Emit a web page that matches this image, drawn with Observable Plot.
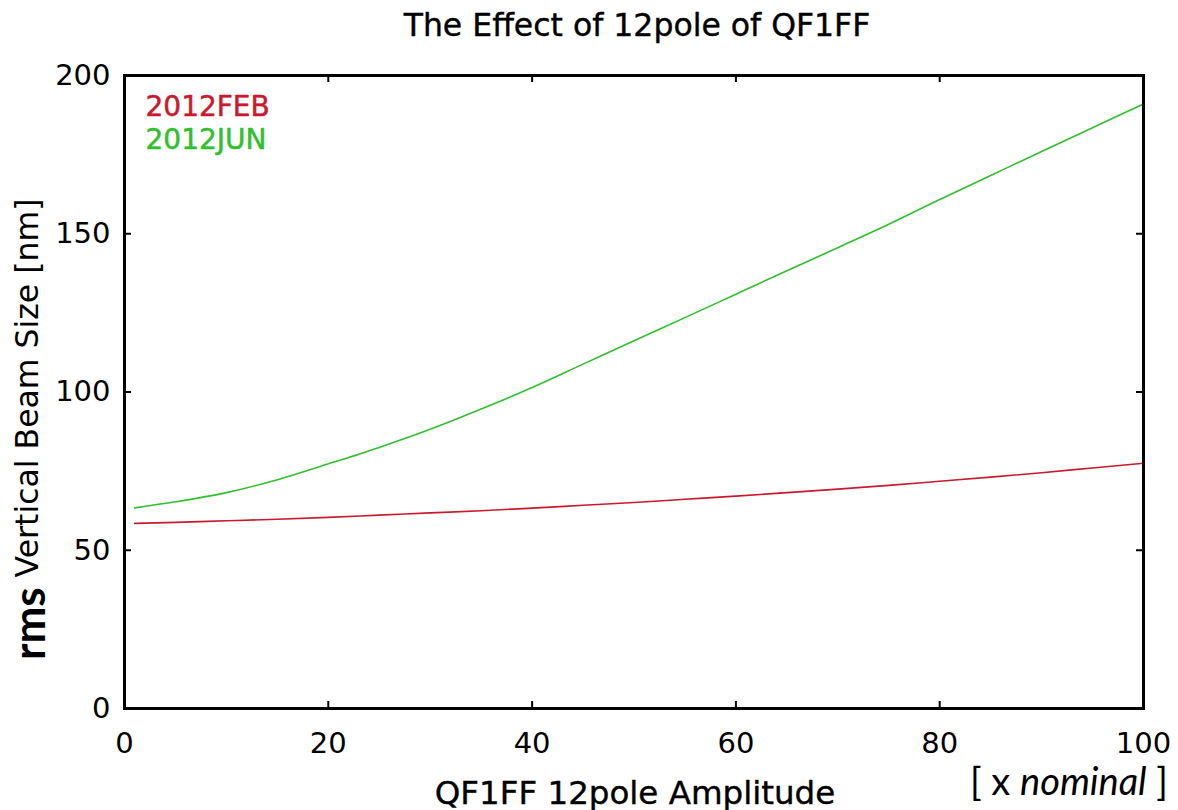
<!DOCTYPE html>
<html><head><meta charset="utf-8">
<script src="https://cdn.jsdelivr.net/npm/d3@7"></script>
<script src="https://cdn.jsdelivr.net/npm/@observablehq/plot@0.6"></script>
<style>body{margin:0;background:#fff;} svg{display:block}</style>
</head><body><div id="chart"></div>
<script>
// ---- data ----
const amplitude = [1, 5, 10, 15, 20, 25, 30, 35, 40, 45, 50, 55, 60, 65, 70, 75, 80, 85, 90, 95, 100];
const feb2012 = [58.5, 58.8, 59.3, 59.8, 60.4, 61.1, 61.8, 62.5, 63.3, 64.2, 65.1, 66.1, 67.1, 68.2, 69.3, 70.5, 71.8, 73.1, 74.5, 76.0, 77.5];
const jun2012 = [63.4, 65.3, 68.2, 72.3, 77.3, 82.5, 88.2, 94.6, 101.4, 108.8, 116.2, 123.5, 130.9, 138.3, 145.6, 153.0, 160.8, 168.4, 176.0, 183.5, 191.0];
const seriesNames = ["2012FEB", "2012JUN"];
const seriesColors = ["#c81a2c", "#2fbf2f"];
const xTicks = [0, 20, 40, 60, 80, 100];
const yTicks = [0, 50, 100, 150, 200];
const titleText = "The Effect of 12pole of QF1FF";
const xLabelText = "QF1FF 12pole Amplitude";
const yLabelBold = "rms";
const yLabelText = "Vertical Beam Size [nm]";
const xUnitParts = ["[ x ", "nominal", " ]"];

const rows = [];
seriesNames.forEach((s, k) => {
  const vals = k === 0 ? feb2012 : jun2012;
  amplitude.forEach((a, i) => rows.push({series: s, amplitude: a, size: vals[i]}));
});

const W = 1178, H = 810, mL = 124, mR = 35, mT = 75, mB = 102;
const iw = W - mL - mR, ih = H - mT - mB, tickLen = 7;

const chart = Plot.plot({
  width: W, height: H,
  marginLeft: mL, marginRight: mR, marginTop: mT, marginBottom: mB,
  style: {fontFamily: "DejaVu Sans", background: "white", color: "black", overflow: "visible"},
  x: {domain: [0, 100]},
  y: {domain: [0, 200]},
  color: {domain: seriesNames, range: seriesColors},
  marks: [
    Plot.line(rows, {x: "amplitude", y: "size", stroke: "series", z: "series", strokeWidth: 1.6, curve: "monotone-x"}),
    Plot.tickX(xTicks, {x: d => d, insetTop: ih - tickLen, strokeWidth: 2}),
    Plot.tickX(xTicks, {x: d => d, insetBottom: ih - tickLen, strokeWidth: 2}),
    Plot.tickY(yTicks, {y: d => d, insetRight: iw - tickLen, strokeWidth: 2}),
    Plot.tickY(yTicks, {y: d => d, insetLeft: iw - tickLen, strokeWidth: 2}),
    Plot.frame({stroke: "black", strokeWidth: 3}),
    Plot.axisX({ticks: xTicks, tickSize: 0, tickPadding: 24, fontSize: 29, label: null, fill: "black", stroke: "black", strokeWidth: 0.5}),
    Plot.axisY({ticks: yTicks, tickSize: 0, tickPadding: 14, fontSize: 29, label: null, fill: "black", stroke: "black", strokeWidth: 0.5}),
    Plot.text([titleText], {frameAnchor: "top", text: d => d, dx: 3, dy: -50, lineAnchor: "middle", fontSize: 31.5, fill: "black", stroke: "black", strokeWidth: 0.4}),
    Plot.text([xLabelText], {frameAnchor: "bottom", text: d => d, dx: 1, dy: 85, lineAnchor: "middle", fontSize: 32.5, fill: "black", stroke: "black", strokeWidth: 0.4}),
    Plot.text([seriesNames[0]], {frameAnchor: "top-left", text: d => d, dx: 21, dy: 32, textAnchor: "start", lineAnchor: "middle", fontSize: 28, fill: seriesColors[0], stroke: seriesColors[0], strokeWidth: 0.5}),
    Plot.text([seriesNames[1]], {frameAnchor: "top-left", text: d => d, dx: 21, dy: 65, textAnchor: "start", lineAnchor: "middle", fontSize: 28, fill: seriesColors[1], stroke: seriesColors[1], strokeWidth: 0.5})
  ]
});
document.getElementById("chart").appendChild(chart);

const svg = d3.select(chart);
// rotated y label with bold "rms"
const yl = svg.append("text")
  .attr("transform", "translate(45,660) rotate(-90)")
  .attr("text-anchor", "start")
  .attr("fill", "black");
yl.append("tspan").attr("font-family", "Lato").attr("font-weight", "bold").attr("font-size", 44).text(yLabelBold);
yl.append("tspan").attr("font-family", "DejaVu Sans").attr("font-size", 31.5).attr("dy", -7).text(" " + yLabelText);

// [ x nominal ] unit note
const xu = svg.append("text")
  .attr("x", 1168).attr("y", 795)
  .attr("text-anchor", "end")
  .attr("font-family", "Lato").attr("font-size", 38).attr("fill", "black");
xu.append("tspan").text(xUnitParts[0]);
xu.append("tspan").attr("font-style", "italic").text(xUnitParts[1]);
xu.append("tspan").text(xUnitParts[2]);
</script>
</body></html>
